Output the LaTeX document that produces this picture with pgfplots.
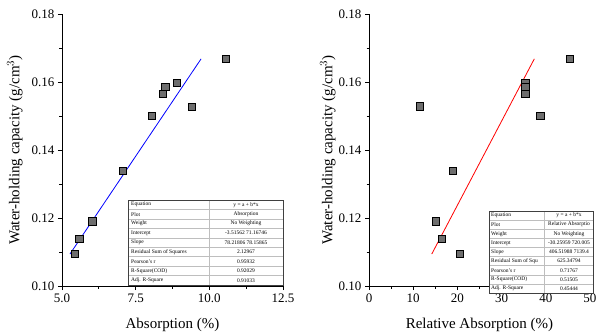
\documentclass[border=0pt]{standalone}
\usepackage{pgfplots}
\pgfplotsset{compat=1.18}
\usepackage{fontspec}
\setmainfont{Liberation Serif}
\definecolor{mk}{RGB}{110,110,110}
\definecolor{tbo}{RGB}{64,64,64}
\definecolor{tbi}{RGB}{190,190,190}
\pgfplotsset{
  common/.style={
    scale only axis, width=221pt, height=272pt,
    axis x line*=bottom, axis y line*=left,
    axis line style={line width=0.9pt,-},
    ymin=0.10, ymax=0.18, ytick={0.10,0.12,0.14,0.16,0.18},
    minor y tick num=1,
    yticklabel style={/pgf/number format/.cd, fixed, fixed zerofill, precision=2},
    /pgf/number format/assume math mode=true,
    tick style={black, line width=0.8pt},
    tick align=outside,
    major tick length=4pt, minor tick length=2.5pt,
    tick label style={font=\fontsize{13}{13}\selectfont},
    label style={font=\fontsize{15}{15}\selectfont},
    ylabel={Water-holding capacity (g/cm$^3$)},
    clip=false,
  },
  pts/.style={only marks, mark=square*, mark size=3.6pt, mark options={fill=mk, draw=black, line width=0.8pt}},
}
\newcommand{\tabfont}{\fontsize{5.5}{6}\selectfont}
\begin{document}
\begin{tikzpicture}
\path[use as bounding box] (-62pt,-49pt) rectangle (541pt,286pt);
% left chart
\begin{axis}[common, at={(0pt,0pt)}, anchor=south west,
  xmin=5, xmax=12.5, xtick={5,7.5,10,12.5}, minor x tick num=1,
  xticklabel style={/pgf/number format/.cd, fixed, fixed zerofill, precision=1},
  xlabel={Absorption (\%)},
  xlabel style={at={(axis description cs:0.5,-0.143)}, anchor=center},
  ylabel style={at={(axis description cs:-0.213,0.5)}, anchor=center},
]
\addplot[pts] coordinates {
(5.44,0.1094) (5.59,0.1138) (6.03,0.1190) (7.06,0.1338) (8.04,0.1500)
(8.42,0.1564) (8.51,0.1585) (8.91,0.1597) (9.40,0.1527) (10.57,0.1668)};
\addplot[blue, line width=0.8pt] coordinates {(5.27,0.1094) (9.72,0.1668)};
\end{axis}
% right chart
\begin{axis}[common, at={(307pt,0pt)}, anchor=south west,
  xmin=0, xmax=50, xtick={0,10,20,30,40,50}, minor x tick num=1,
  xlabel={Relative Absorption (\%)},
  xlabel style={at={(axis description cs:0.5,-0.143)}, anchor=center},
  ylabel style={at={(axis description cs:-0.186,0.5)}, anchor=center},
]
\addplot[pts] coordinates {
(11.6,0.1528) (15.2,0.1190) (16.5,0.1138) (18.9,0.1338) (20.6,0.1094)
(35.4,0.1597) (35.4,0.1584) (35.4,0.1564) (38.8,0.1500) (45.5,0.1668)};
\addplot[red, line width=0.8pt] coordinates {(14.2,0.1094) (37.4,0.1668)};
\end{axis}
% left table
\begin{scope}[shift={(67pt,1pt)}]
  \fill[white] (0pt,0pt) rectangle (154pt,85pt);
  \foreach \lab/\val [count=\i] in {Equation/{y = a + b*x}, Plot/Absorption, Weight/No Weighting, Intercept/{-3.51562 71.16746}, Slope/{78.21806 78.15865}, Residual Sum of Squares/2.12967, Pearson's r/0.95932, R-Square(COD)/0.92029, Adj. R-Square/0.91033} {
    \node[anchor=west, inner sep=0pt, font=\tabfont] at (2pt,{85pt-(\i-0.5)*9.444pt}) {\lab};
    \node[anchor=center, inner sep=0pt, font=\tabfont] at (117pt,{85pt-(\i-0.5)*9.444pt}) {\val};
  }
  \foreach \i in {1,...,8} {\draw[tbi, line width=0.5pt] (0pt,{\i*9.444pt}) -- (154pt,{\i*9.444pt});}
  \draw[tbi, line width=0.6pt] (80pt,0pt) -- (80pt,85pt);
  \draw[tbo, line width=1pt] (0pt,0pt) rectangle (154pt,85pt);
\end{scope}
% right table
\begin{scope}[shift={(427pt,-7pt)}]
  \fill[white] (0pt,0pt) rectangle (104pt,82pt);
  \foreach \lab/\val [count=\i] in {Equation/{y = a + b*x}, Plot/Relative Absorptio, Weight/No Weighting, Intercept/{-30.25959 720.005}, Slope/{406.51988 7139.4}, Residual Sum of Squ/625.34794, Pearson's r/0.71767, R-Square(COD)/0.51505, Adj. R-Square/0.45444} {
    \node[anchor=west, inner sep=0pt, font=\tabfont] at (2pt,{82pt-(\i-0.5)*9.111pt}) {\lab};
    \node[anchor=center, inner sep=0pt, font=\tabfont] at (80pt,{82pt-(\i-0.5)*9.111pt}) {\val};
  }
  \foreach \i in {1,...,8} {\draw[tbi, line width=0.5pt] (0pt,{\i*9.111pt}) -- (104pt,{\i*9.111pt});}
  \draw[tbi, line width=0.6pt] (55pt,0pt) -- (55pt,82pt);
  \draw[tbo, line width=1pt] (0pt,0pt) rectangle (104pt,82pt);
\end{scope}
\end{tikzpicture}
\end{document}
